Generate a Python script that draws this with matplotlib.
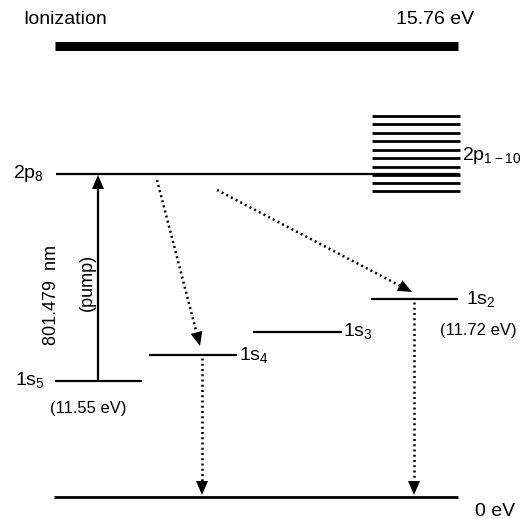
import numpy as np
import matplotlib.pyplot as plt
from matplotlib.patches import Polygon

plt.rcParams['font.family'] = ['Liberation Sans', 'DejaVu Sans']

# energy level diagram, positions in picture units (y grows downward)
level_labels = [r'$\mathregular{2p_8}$', r'$\mathregular{1s_5}$', r'$\mathregular{1s_4}$',
                r'$\mathregular{1s_3}$', r'$\mathregular{1s_2}$', '0 eV']
level_x0 = [56, 55, 149, 253, 371, 54]
level_x1 = [460, 142, 237, 342, 458, 458]
level_y = [174, 380.5, 355, 331.5, 299, 497]
label_x = [13, 15, 239, 343, 466, 475]
label_y = [173, 380, 355, 331, 299, 511]

# 2p manifold (10 sublevels)
band_y = [115.7, 124.3, 132.7, 141.3, 150, 158.3, 166.7, 174.7, 182.7, 190.7]
band_x0, band_x1 = 372, 460

ion_y, ion_x0, ion_x1 = 45.5, 55, 458

# transitions: (tail, tip)
pump = ((98, 380), (98, 175))
decays = [((157, 180), (200, 346)),
          ((217, 190), (412, 292)),
          ((202, 358), (202, 495)),
          ((414, 302), (414, 495))]

fig = plt.figure(figsize=(5.27, 5.19), dpi=100)
ax = fig.add_axes([0, 0, 1, 1])
ax.set_xlim(0, 527)
ax.set_ylim(519, 0)
ax.axis('off')


def head(p0, p1, length=14, width=12):
    p0 = np.array(p0, float)
    p1 = np.array(p1, float)
    d = (p1 - p0) / np.hypot(*(p1 - p0))
    n = np.array([-d[1], d[0]])
    base = p1 - d * length
    tri = [p1, base + n * width / 2, base - n * width / 2]
    ax.add_patch(Polygon(tri, closed=True, color='black', lw=0, zorder=4))
    return base


# ionization limit
ax.plot([ion_x0, ion_x1], [ion_y, ion_y], color='black', lw=6.5, solid_capstyle='butt')
ax.text(23, 20, 'Ionization', fontsize=14, va='center', ha='left')
ax.text(474, 20, '15.76 eV', fontsize=14, va='center', ha='right')

# levels
for x0, x1, y in zip(level_x0, level_x1, level_y):
    lw = 2.0 if y == level_y[-1] else 1.6
    ax.plot([x0, x1], [y, y], color='black', lw=lw, solid_capstyle='butt')
for t, x, y in zip(level_labels, label_x, label_y):
    ax.text(x, y, t, fontsize=14, va='center', ha='left')

for y in band_y:
    ax.plot([band_x0, band_x1], [y, y], color='black', lw=2.0, solid_capstyle='butt')
ax.text(462, 155, r'$\mathregular{2p_{1-10}}$', fontsize=14, va='center', ha='left')

ax.text(50, 408, '(11.55 eV)', fontsize=12, va='center', ha='left')
ax.text(440, 330, '(11.72 eV)', fontsize=12, va='center', ha='left')

# pump
b = head(pump[0], pump[1])
ax.plot([pump[0][0], b[0]], [pump[0][1], b[1]], color='black', lw=1.6)
ax.text(52, 295, '801.479  nm', fontsize=13, rotation=90, va='center', ha='center')
ax.text(87, 282, '(pump)', fontsize=13, rotation=90, va='center', ha='center')

# decays
for tail, tip in decays:
    b = head(tail, tip)
    ax.plot([tail[0], b[0]], [tail[1], b[1]], color='black', lw=1.8,
            linestyle=(0, (0.8, 1.3)))

fig.savefig('out.png', dpi=100)
